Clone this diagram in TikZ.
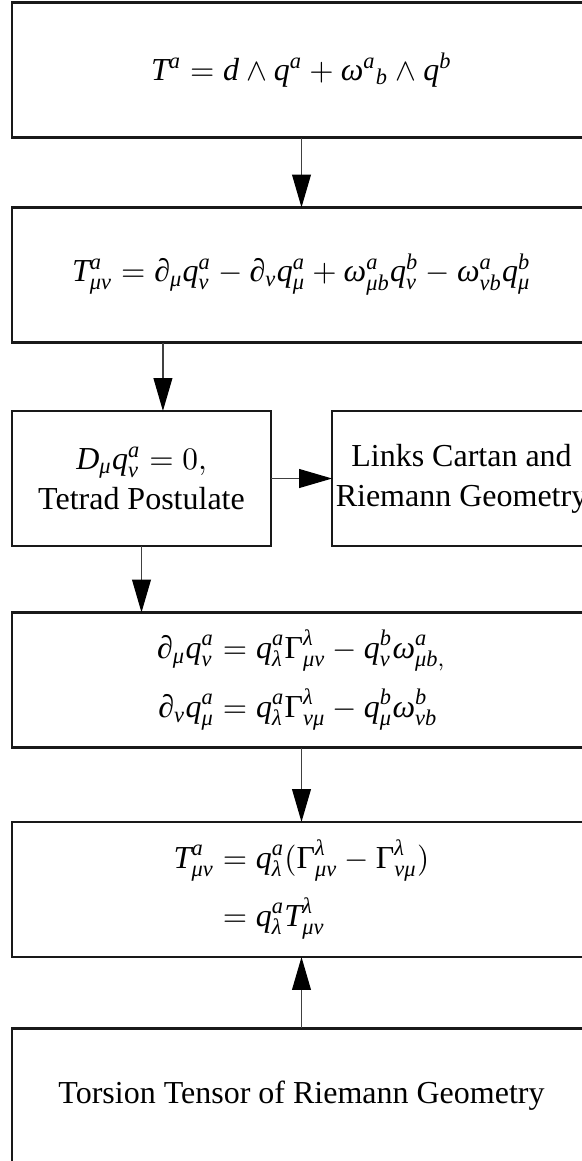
\documentclass[tikz,border=0pt]{standalone}
\usepackage{amsmath}
\usepackage{fontspec}
\setmainfont{Liberation Serif}
\newfontfamily\libserif{Liberation Serif}[NFSSFamily=libser]
\DeclareSymbolFont{tletters}{TU}{libser}{m}{it}
\DeclareSymbolFont{tupright}{TU}{libser}{m}{n}
% Times-like letters in the formulas
\AtBeginDocument{%
  \count255=`a
  \loop \Umathcode\count255="7 \symtletters \count255
    \advance\count255 by 1 \ifnum\count255<123 \repeat
  \count255=`A
  \loop \Umathcode\count255="7 \symtletters \count255
    \advance\count255 by 1 \ifnum\count255<91 \repeat
  \Umathchardef\mu="7 \symtletters "03BC
  \Umathchardef\nu="7 \symtletters "03BD
  \Umathchardef\omega="7 \symtletters "03C9
  \Umathchardef\lambda="7 \symtletters "03BB
  \Umathchardef\partial="0 \symtupright "2202
  \Umathchardef\Gamma="0 \symtupright "0393
}
\usetikzlibrary{arrows.meta,positioning}

\begin{document}
\begin{tikzpicture}[x=0.35pt, y=-0.35pt,
  font=\fontsize{11.2}{14}\selectfont,
  box/.style={draw=black!90, line width=0.8pt, minimum width=202.6pt,
    minimum height=47.3pt, inner sep=0pt, outer sep=0pt, align=center},
  halfbox/.style={box, minimum width=90.6pt},
  arr/.style={-{Triangle[length=11.5pt,width=6.6pt,color=black]}, black!75, line width=0.4pt}]
\useasboundingbox (0,0) rectangle (582,1161);
\clip (0,0) rectangle (582,1161);
\node[box] (cartan) at (301.5,70) {$T^{a} = d \wedge q^{a} + \omega^{a}{}_{b} \wedge q^{b}$};
\node[box] (comps) at (301.5,275) {$T^{a}_{\mu\nu} = \partial_{\mu} q^{a}_{\nu} - \partial_{\nu} q^{a}_{\mu}
  + \omega^{a}_{\mu b} q^{b}_{\nu} - \omega^{a}_{\nu b} q^{b}_{\mu}$};
\node[halfbox] (tetrad) at (141.5,478.5) {$D_{\mu} q^{a}_{\nu} = 0,$\\ Tetrad Postulate};
\node[halfbox] (links) at (461.5,478.5) {Links Cartan and\\ Riemann Geometry};
\node[box] (deriv) at (301.5,680) {$\begin{aligned}
  \partial_{\mu} q^{a}_{\nu} &= q^{a}_{\lambda} \Gamma^{\lambda}_{\mu\nu} - q^{b}_{\nu} \omega^{a}_{\mu b,}\\[2pt]
  \partial_{\nu} q^{a}_{\mu} &= q^{a}_{\lambda} \Gamma^{\lambda}_{\nu\mu} - q^{b}_{\mu} \omega^{b}_{\nu b}
  \end{aligned}$};
\node[box] (torsion) at (301.5,889.5) {$\begin{aligned}
  T^{a}_{\mu\nu} &= q^{a}_{\lambda} (\Gamma^{\lambda}_{\mu\nu} - \Gamma^{\lambda}_{\nu\mu})\\[2pt]
  &= q^{a}_{\lambda} T^{\lambda}_{\mu\nu}
  \end{aligned}$};
\node[box] (riemann) at (301.5,1096) {Torsion Tensor of Riemann Geometry};
\draw[arr] (cartan) -- (comps);
\draw[arr] ([xshift=7.5pt]comps.south -| tetrad.north) -- ([xshift=7.5pt]tetrad.north);
\draw[arr] (tetrad) -- (links);
\draw[arr] (tetrad.south) -- (tetrad.south |- deriv.north);
\draw[arr] (deriv) -- (torsion);
\draw[arr] (riemann) -- (torsion);
\end{tikzpicture}
\end{document}
